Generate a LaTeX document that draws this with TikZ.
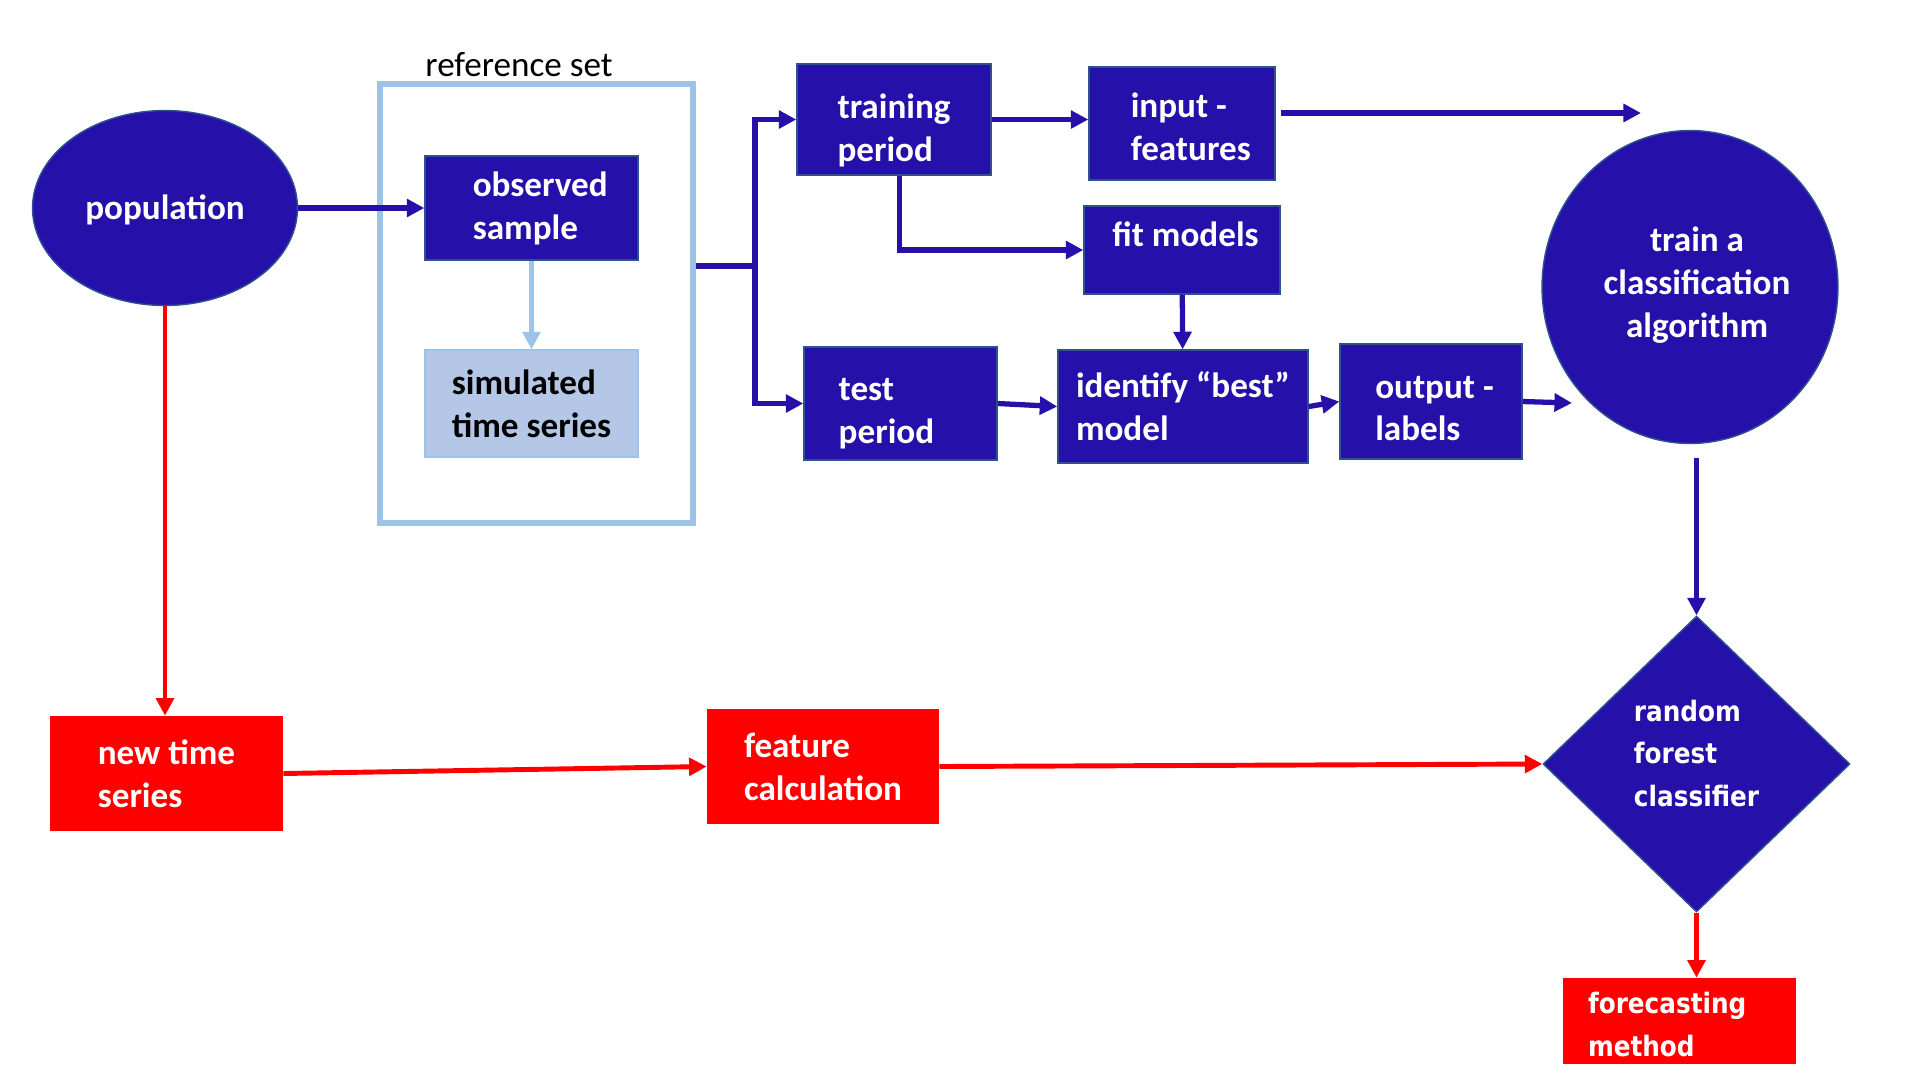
\documentclass[tikz,border=0pt]{standalone}
\usepackage{fontspec}
\setmainfont{Carlito}
\newfontfamily\verdfont[FakeStretch=0.88]{DejaVu Sans}
\usetikzlibrary{shapes.geometric,arrows.meta,positioning}

\definecolor{darkblue}{RGB}{38,16,170}
\definecolor{edgeblue}{RGB}{47,82,143}
\definecolor{lightblue}{RGB}{157,195,230}
\definecolor{paleblue}{RGB}{180,199,231}
\definecolor{brightred}{RGB}{255,0,0}

\tikzset{
  boxfont/.style={font=\bfseries\fontsize{20}{24.4}\selectfont},
  widefont/.style={font=\verdfont\bfseries\fontsize{16}{24.4}\selectfont},
  caption/.style={text=white, align=left, inner sep=0pt},
  bluebox/.style={rectangle, draw=edgeblue, line width=0.8pt, fill=darkblue, text=white, boxfont, align=left, inner sep=0pt},
  redbox/.style={rectangle, draw=none, fill=brightred, text=white, boxfont, align=left, inner sep=0pt},
  bluearrow/.style={draw=darkblue, line width=3pt, -{Triangle[length=10pt,width=10pt]}},
  redarrow/.style={draw=brightred, line width=2.8pt, -{Triangle[length=10pt,width=10pt]}},
  palearrow/.style={draw=lightblue, line width=3pt, -{Triangle[length=10pt,width=10pt]}}
}

\begin{document}
\begin{tikzpicture}[x=0.02cm,y=-0.02cm]
    \useasboundingbox (0,0) rectangle (1920,1080);

    % reference set
    \node[rectangle, draw=lightblue, line width=3.2pt, minimum width=6.26cm, minimum height=8.78cm] (refbox) at (536.5,303.5) {};
    \node[font=\fontsize{20}{24.4}\selectfont] (reflabel) at (519,65) {reference set};
    \node[bluebox, minimum width=4.26cm, minimum height=2.08cm, label={[caption, boxfont, xshift=5pt]center:observed\\sample}] (obs) at (531.5,208) {};
    \node[rectangle, draw=lightblue, line width=0.8pt, fill=paleblue, boxfont, align=left, inner sep=0pt, minimum width=4.26cm, minimum height=2.14cm] (sim) at (531.5,403.5) {simulated\\time series};

    % population
    \node[ellipse, draw=edgeblue, line width=0.8pt, fill=darkblue, text=white, minimum width=5.3cm, minimum height=3.9cm, label={[caption, boxfont, yshift=-1pt]center:population}] (pop) at (165,208) {};

    % training and test
    \node[bluebox, minimum width=3.88cm, minimum height=2.22cm, label={[caption, boxfont, yshift=-6pt]center:training\\period}] (train) at (894,119.5) {};
    \node[bluebox, minimum width=3.72cm, minimum height=2.26cm, label={[caption, boxfont, xshift=5pt, yshift=-2pt]center:input -\\features}] (feat) at (1182,123.5) {};
    \node[bluebox, minimum width=3.92cm, minimum height=1.76cm, label={[anchor=north, caption, boxfont, xshift=2pt, yshift=-9pt]north:fit models}] (fit) at (1182,250) {};
    \node[bluebox, minimum width=3.86cm, minimum height=2.26cm, label={[caption, boxfont, xshift=-8pt, yshift=-6pt]center:test\\period}] (test) at (900.5,403.5) {};
    \node[bluebox, minimum width=5.0cm, minimum height=2.26cm] (best) at (1183,406.5) {identify “best”\\model};
    \node[bluebox, minimum width=3.64cm, minimum height=2.3cm, label={[caption, boxfont, xshift=2pt, yshift=-4pt]center:output -\\labels}] (outlab) at (1431,401.5) {};

    % classifier
    \node[ellipse, draw=edgeblue, line width=0.8pt, fill=darkblue, text=white, minimum width=5.92cm, minimum height=6.26cm, label={[caption, boxfont, align=center, xshift=4pt, yshift=1pt]center:train a\\classification\\algorithm}] (algo) at (1690,287) {};
    \node[diamond, draw=edgeblue, line width=0.8pt, fill=darkblue, inner sep=0pt, minimum width=6.14cm, minimum height=5.92cm, label={[caption, widefont, yshift=6pt]center:random\\forest\\classifier}] (rf) at (1696.5,764) {};
    \node[redbox, widefont, minimum width=4.66cm, minimum height=1.72cm, label={[caption, widefont, xshift=-7pt, yshift=-2pt]center:forecasting\\method}] (fcm) at (1679.5,1021) {};

    % new data
    \node[redbox, minimum width=4.66cm, minimum height=2.3cm] (newts) at (166.5,773.5) {new time\\series};
    \node[redbox, minimum width=4.64cm, minimum height=2.3cm] (featcalc) at (823,766.5) {feature\\calculation};

    \coordinate (split) at (755,266);
    \coordinate (featend) at (1641,113);
    \coordinate (algoin) at (1572,403);

    \draw[bluearrow] (pop) -- (obs);
    \draw[palearrow] (obs) -- (sim);
    \draw[bluearrow] (refbox.east |- split) -- (split) |- (train.west);
    \draw[bluearrow] (split) |- (test.west);
    \draw[bluearrow] (train.east) -- (train.east -| feat.west);
    \draw[bluearrow] ([xshift=3pt]train.south) |- (fit.west);
    \draw[bluearrow] ([xshift=3pt]feat.east |- featend) -- (featend);
    \draw[bluearrow] (fit) -- (best);
    \draw[bluearrow] (test.east) -- (best.west);
    \draw[bluearrow] (best.east) -- (outlab.west);
    \draw[bluearrow] (outlab.east) -- (algoin);
    \draw[bluearrow, shorten <=8pt] (rf.north |- algo.south) -- (rf.north);

    \draw[redarrow] (pop.south) -- (pop.south |- newts.north);
    \draw[redarrow] (newts.east) -- (featcalc.west);
    \draw[redarrow] (featcalc.east) -- (rf.west);
    \draw[redarrow] (rf.south) -- (rf.south |- fcm.north);
\end{tikzpicture}
\end{document}
